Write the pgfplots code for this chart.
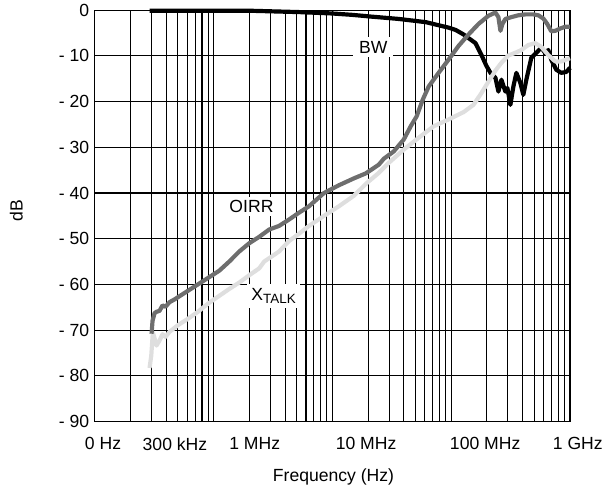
\documentclass[border=0pt]{standalone}
\usepackage{fontspec}
\setmainfont{Liberation Sans}
\usepackage{pgfplots}
\pgfplotsset{compat=1.18}

\definecolor{oirr}{RGB}{110,110,110}
\definecolor{xtalk}{RGB}{222,222,222}
\newcommand{\lbl}{\fontsize{17.7}{21}\selectfont}

\begin{document}
\begin{tikzpicture}
\begin{axis}[
  scale only axis, width=476.7bp, height=412.4bp,
  xmode=log, xmin=5e4, xmax=5e8, ymin=-90, ymax=0,
  clip=false,
  axis line style={line width=1.3bp},
  xtick={1e5,1.5e5,2e5,2.5e5,3e5,3.5e5,4e5,4.5e5,5e5,
         1e6,1.5e6,2e6,2.5e6,3e6,3.5e6,4e6,4.5e6,5e6,
         1e7,1.5e7,2e7,2.5e7,3e7,3.5e7,4e7,4.5e7,5e7,
         1e8,1.5e8,2e8,2.5e8,3e8,3.5e8,4e8,4.5e8},
  xticklabels={},
  xminorticks=false, yminorticks=false,
  xmajorgrids, ymajorgrids,
  major grid style={black, line width=1.1bp},
  major tick length=0,
  extra x ticks={5.87e4,2.367e5,1.11e6,9.61e6,9.66e7},
  extra x tick labels={0 Hz,300 kHz,1 MHz,10 MHz,100 MHz},
  extra x tick style={grid=none},
  ytick={-90,-80,...,0},
  yticklabels={- 90,- 80,- 70,- 60,- 50,- 40,- 30,- 20,- 10,0},
  tick label style={font=\lbl},
  xticklabel style={yshift=-12.5bp},
  yticklabel style={xshift=-2bp},
  xlabel={Frequency (Hz)}, ylabel={dB},
  label style={font=\lbl},
  xlabel style={at={(rel axis cs:0.5024,-0.135)}, anchor=center},
  ylabel style={at={(rel axis cs:-0.1647,0.512)}, anchor=center},
]
\coordinate (sw) at (rel axis cs:0,0);
\coordinate (ne) at (rel axis cs:1,1);

% BW
\addplot[black, line width=4.2bp, line join=round] coordinates {
  (1.447e5,-0.1)(9.985e5,-0.1)(2.623e6,-0.4)(4.963e6,-0.7)(7.301e6,-1.0)
  (1.075e7,-1.4)(1.811e7,-1.9)(3.050e7,-2.6)(4.755e7,-3.8)(5.445e7,-4.3)
  (6.355e7,-5.3)(8.012e7,-7.2)(8.996e7,-9.8)(9.908e7,-12.2)(1.071e8,-13.7)
  (1.179e8,-14.8)(1.249e8,-17.8)(1.324e8,-15.2)(1.430e8,-17.8)(1.486e8,-17.0)
  (1.575e8,-20.7)(1.669e8,-16.7)(1.769e8,-13.7)(1.911e8,-15.9)(2.025e8,-18.5)
  (2.146e8,-15.2)(2.363e8,-10.4)(2.603e8,-9.3)(2.866e8,-8.2)(3.096e8,-9.4)
  (3.281e8,-8.7)(3.478e8,-10.8)(3.830e8,-13.0)(4.219e8,-13.7)(4.646e8,-13.5)
  (5e8,-12.6)
};

% XTALK
\addplot[xtalk, line width=4.2bp, line join=round] coordinates {
  (1.447e5,-78.3)(1.496e5,-75.6)(1.542e5,-70.5)(1.594e5,-71.8)(1.656e5,-73.4)
  (1.755e5,-72.3)(1.860e5,-70.9)(1.971e5,-71.5)(2.130e5,-70.4)(2.485e5,-69.0)
  (3.015e5,-67.6)(3.657e5,-66.1)(4.028e5,-65.2)(4.612e5,-64.0)(5.594e5,-62.5)
  (6.784e5,-61.0)(8.232e5,-59.6)(9.985e5,-58.0)(1.211e6,-56.5)(1.334e6,-55.0)
  (1.782e6,-52.8)(2.162e6,-50.5)(2.623e6,-48.9)(3.182e6,-47.2)(4.252e6,-45.0)
  (5.680e6,-42.9)(7.589e6,-40.6)(9.758e6,-37.8)(1.230e7,-35.6)(1.492e7,-33.4)
  (1.994e7,-30.5)(2.665e7,-27.9)(3.558e7,-25.4)(4.755e7,-23.9)(6.355e7,-22.3)
  (7.708e7,-20.7)(8.996e7,-18.1)(1.030e8,-15.6)(1.179e8,-13.2)(1.324e8,-11.5)
  (1.515e8,-9.9)(1.735e8,-9.3)(1.948e8,-8.7)(2.230e8,-7.6)(2.553e8,-7.2)
  (2.866e8,-8.0)(3.281e8,-9.8)(3.757e8,-11.2)(4.219e8,-11.2)(5e8,-10.5)
};

% OIRR
\addplot[oirr, line width=4.2bp, line join=round] coordinates {
  (1.504e5,-70.8)(1.533e5,-68.0)(1.594e5,-66.3)(1.656e5,-66.0)(1.755e5,-65.8)
  (1.860e5,-64.6)(1.971e5,-64.9)(2.130e5,-63.9)(2.345e5,-63.3)(2.583e5,-62.6)
  (3.133e5,-61.2)(3.802e5,-59.8)(4.612e5,-58.4)(5.594e5,-57.0)(6.784e5,-55.0)
  (8.232e5,-52.8)(9.985e5,-51.0)(1.211e6,-49.6)(1.469e6,-48.0)(1.782e6,-47.2)
  (2.162e6,-45.8)(2.623e6,-44.3)(3.182e6,-42.9)(4.252e6,-40.0)(5.680e6,-38.3)
  (7.589e6,-36.8)(9.571e6,-35.7)(1.230e7,-33.8)(1.355e7,-32.5)(1.644e7,-30.9)
  (1.994e7,-28.3)(2.282e7,-25.4)(2.563e7,-23.2)(2.879e7,-19.6)(3.232e7,-16.7)
  (3.920e7,-13.7)(4.755e7,-10.8)(5.770e7,-7.8)(6.998e7,-5.3)(8.489e7,-3.0)
  (1.030e8,-1.2)(1.179e8,-0.5)(1.249e8,-1.5)(1.299e8,-4.5)(1.350e8,-3.0)
  (1.430e8,-1.9)(1.606e8,-1.5)(1.838e8,-1.1)(2.105e8,-0.9)(2.456e8,-0.9)
  (2.705e8,-1.1)(2.979e8,-1.8)(3.218e8,-3.0)(3.478e8,-4.6)(3.757e8,-4.5)
  (4.138e8,-4.0)(4.557e8,-3.6)(5e8,-3.6)
};

% curve labels on white boxes
\node[fill=white, font=\lbl, anchor=base west, inner xsep=6bp, inner ysep=4bp]
  at (axis cs:7.443e6,-9.38) {BW};
\node[fill=white, font=\lbl, anchor=base west, inner xsep=4bp, inner ysep=3bp]
  at (axis cs:6.281e5,-44.24) {OIRR};
\node[fill=white, font=\lbl, anchor=base west, inner xsep=4bp, inner ysep=5bp]
  at (axis cs:9.607e5,-63.55) {X\raisebox{-2.5bp}{\fontsize{13.5}{16}\selectfont TALK}};

% last frequency label sits beyond the axis end
\node[font=\lbl, anchor=north, yshift=-12.5bp] at (rel axis cs:1.0164,0) {1 GHz};
\end{axis}
\path ([shift={(-95bp,-65.3bp)}]sw) rectangle ([shift={(34.3bp,10.3bp)}]ne);
\end{tikzpicture}
\end{document}
